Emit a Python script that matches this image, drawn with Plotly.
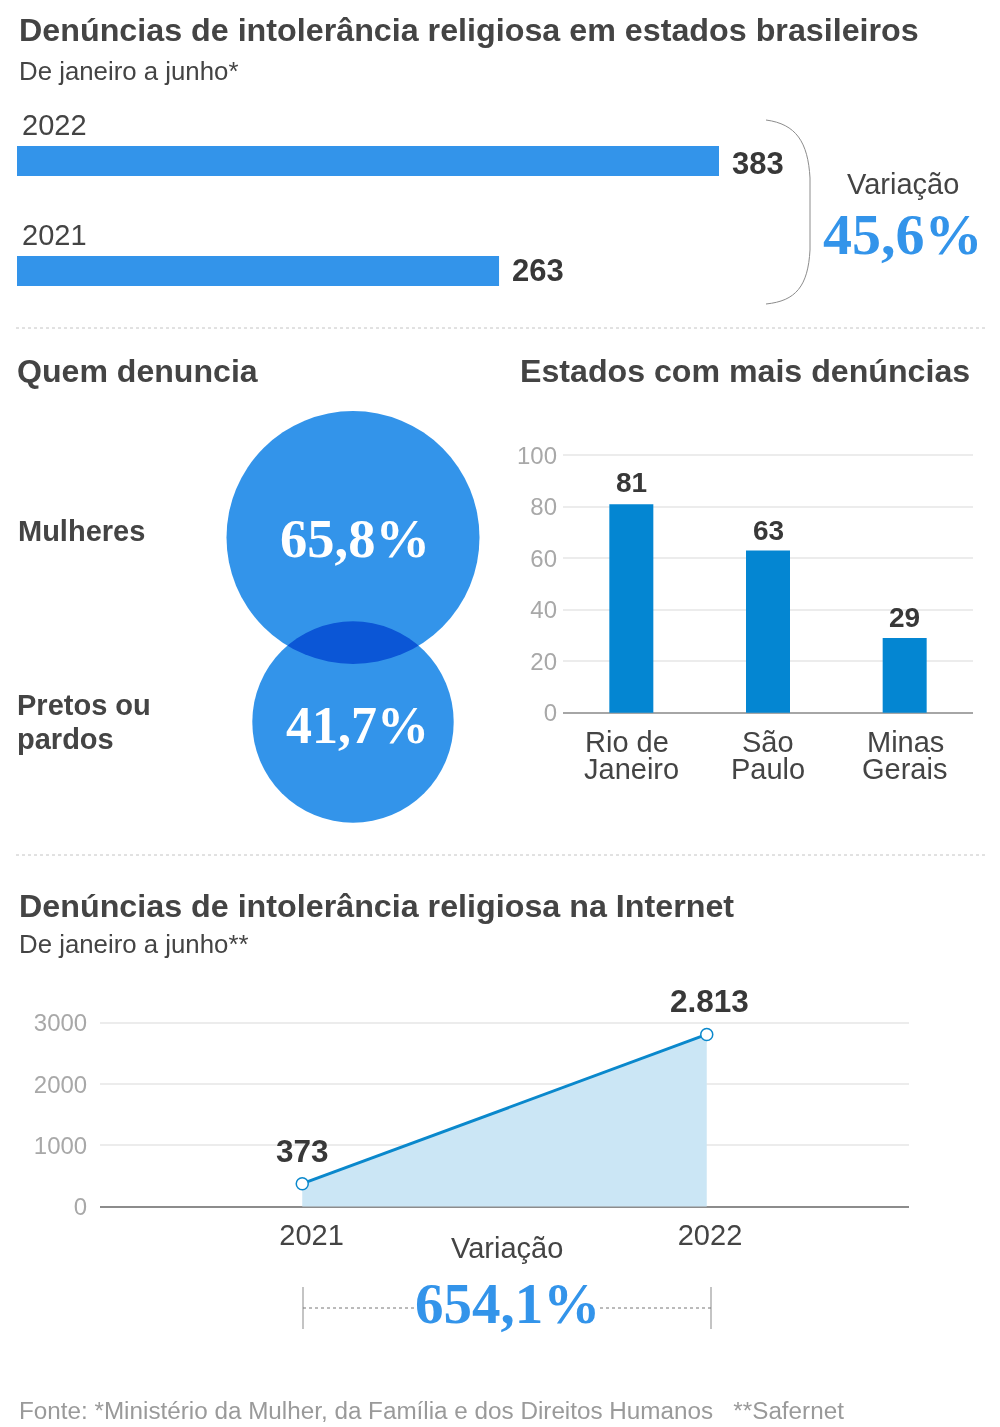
import plotly.graph_objects as go

W, H = 1000, 1427

# ---- data ----
years_top = ["2021", "2022"]
denuncias_top = [263, 383]
variacao_top = "45,6%"

quem_cats = ["Pretos ou pardos", "Mulheres"]
quem_vals = [41.7, 65.8]
quem_text = ["41,7%", "65,8%"]

estados = ["Rio de Janeiro", "São Paulo", "Minas Gerais"]
estados_l1 = ["Rio de", "São", "Minas"]
estados_l2 = ["Janeiro", "Paulo", "Gerais"]
estados_vals = [81, 63, 29]
estados_ticks = [0, 20, 40, 60, 80, 100]

net_years = [2021, 2022]
net_vals = [373, 2813]
net_text = ["373", "2.813"]
net_ticks = [0, 1000, 2000, 3000]
variacao_net = "654,1%"

BLUE = "#3394ea"
BAR2 = "#0486d2"
LINE = "#0a88cc"
FILL = "#cbe6f5"
DARK = "#444444"
BOLD = "#383838"
GRAY = "#a8a8a8"
GRID = "#ececec"
AXIS = "#a6a6a6"
SANS = "Liberation Sans"
SERIF = "Liberation Serif"


def px(x):
    return x / W


def py(y):
    return 1 - y / H


def dom_x(a, b):
    return [px(a), px(b)]


def dom_y(top, bottom):
    return [py(bottom), py(top)]


def label(x, y, text, size, color=DARK, bold=False, family=SANS, anchor="left"):
    return dict(
        x=px(x), y=py(y), xref="paper", yref="paper", text=f"<b>{text}</b>" if bold else text,
        showarrow=False, xanchor=anchor, yanchor="middle", align=anchor,
        borderpad=0, borderwidth=0,
        font=dict(size=size, color=color, family=family),
    )


fig = go.Figure()

# top bars
fig.add_trace(go.Bar(
    x=denuncias_top, y=years_top, orientation="h", width=30 / 110,
    marker=dict(color=BLUE, line=dict(width=0)), xaxis="x", yaxis="y", hoverinfo="skip",
))

# circles (area proportional)
R_BIG = 126.5
sizeref = max(quem_vals) / 2 / R_BIG ** 2
fig.add_trace(go.Scatter(
    x=[0, 0], y=quem_cats, mode="markers",
    marker=dict(size=quem_vals, sizemode="area", sizeref=sizeref, color=BLUE,
                opacity=1, line=dict(width=0)),
    cliponaxis=False, xaxis="x2", yaxis="y2", hoverinfo="skip",
))

# states bars
fig.add_trace(go.Bar(
    x=estados, y=estados_vals, width=44 / 136.67,
    marker=dict(color=BAR2, line=dict(width=0)), xaxis="x3", yaxis="y3", hoverinfo="skip",
))

# internet line
fig.add_trace(go.Scatter(
    x=net_years, y=net_vals, mode="lines+markers", fill="tozeroy", fillcolor=FILL,
    line=dict(color=LINE, width=3),
    marker=dict(size=12, color="white", line=dict(color=LINE, width=1.5)),
    cliponaxis=False, xaxis="x4", yaxis="y4", hoverinfo="skip",
))

ann = [
    label(19, 30, "Denúncias de intolerância religiosa em estados brasileiros", 32.25, bold=True),
    label(19, 71, "De janeiro a junho*", 25.8),
    label(903, 184, "Variação", 29, anchor="center"),
    label(903, 234, variacao_top, 58, color=BLUE, bold=True, family=SERIF, anchor="center"),
    label(17, 371, "Quem denuncia", 32.1, bold=True),
    label(520, 371, "Estados com mais denúncias", 32.15, bold=True),
    label(18, 531, "Mulheres", 29, bold=True),
    label(17, 705, "Pretos ou", 29, bold=True),
    label(17, 739, "pardos", 29, bold=True),
    label(19, 906, "Denúncias de intolerância religiosa na Internet", 32.25, bold=True),
    label(19, 944, "De janeiro a junho**", 25.8),
    label(507, 1248, "Variação", 29, anchor="center"),
    label(507, 1303, variacao_net, 57, color=BLUE, bold=True, family=SERIF, anchor="center"),
    label(19, 1410, "Fonte: *Ministério da Mulher, da Família e dos Direitos Humanos   **Safernet", 24.25, color="#9a9a9a"),
]

# circle labels, small offsets in pixels
for i, (t, size, dx, dy) in enumerate(zip(quem_text, [52, 54.5], [4, 2], [-3, -1])):
    ann.append(dict(x=0, y=i, xref="x2", yref="y2", text=f"<b>{t}</b>", showarrow=False,
                    xshift=dx, yshift=dy, font=dict(size=size, color="white", family=SERIF)))

for i, (yr, v, dy) in enumerate(zip(years_top, denuncias_top, [1, -2])):
    ann.append(dict(x=0, y=i, xref="x", yref="y", text=yr, showarrow=False, xanchor="left",
                    yanchor="middle", xshift=3, yshift=36, font=dict(size=29, color=DARK, family=SANS)))
    ann.append(dict(x=v, y=i, xref="x", yref="y", text=f"<b>{v}</b>", showarrow=False, xanchor="left",
                    yanchor="middle", xshift=11, yshift=dy, font=dict(size=31, color=BOLD, family=SANS)))

for name, l1, l2, v, dx, dy in zip(estados, estados_l1, estados_l2, estados_vals, [-4, 0, 1], [22, 20, 21]):
    ann.append(dict(x=name, y=v, xref="x3", yref="y3", text=f"<b>{v}</b>", showarrow=False,
                    yanchor="middle", yshift=dy, font=dict(size=28, color=BOLD, family=SANS)))
    ann.append(dict(x=name, y=0, xref="x3", yref="y3", text=l1, showarrow=False,
                    yanchor="middle", xshift=dx, yshift=-29, font=dict(size=29, color=DARK, family=SANS)))
    ann.append(dict(x=name, y=0, xref="x3", yref="y3", text=l2, showarrow=False,
                    yanchor="middle", yshift=-56, font=dict(size=29, color=DARK, family=SANS)))

for yr, v, t, dx in zip(net_years, net_vals, net_text, [0, 3]):
    ann.append(dict(x=yr, y=v, xref="x4", yref="y4", text=f"<b>{t}</b>", showarrow=False,
                    yanchor="middle", xshift=dx, yshift=33, font=dict(size=31.5, color=BOLD, family=SANS)))


def seg(x0, y0, x1, y1, color, width=1, dash="solid"):
    return dict(type="line", xref="paper", yref="paper", x0=px(x0), y0=py(y0), x1=px(x1), y1=py(y1),
                line=dict(color=color, width=width, dash=dash), layer="below")


brace_pts = "M {} {} C {} {} {} {} {} {} L {} {} C {} {} {} {} {} {}".format(
    px(766), py(120), px(796), py(124), px(808), py(142), px(810), py(178),
    px(810), py(250), px(808), py(286), px(796), py(301), px(766), py(304),
)

shapes = [
    seg(16, 328, 985, 328, "#c4c4c4", 1, "dot"),
    seg(16, 855, 985, 855, "#c4c4c4", 1, "dot"),
    dict(type="path", xref="paper", yref="paper", path=brace_pts, line=dict(color="#8c8c8c", width=1)),
    seg(303, 1287, 303, 1329, "#b0b0b0", 1.5),
    seg(711, 1287, 711, 1329, "#b0b0b0", 1.5),
    seg(303, 1308, 415, 1308, "#777777", 1, "dot"),
    seg(600, 1308, 711, 1308, "#777777", 1, "dot"),
]

tick_font = dict(size=24, color=GRAY, family=SANS)

# pixel scales of the two value axes; ranges overshoot so the edge gridlines and zero lines draw
S3 = (712.7 - 455.3) / 100
S4 = (1206.5 - 1023) / 3000
R3 = [-0.6, 101]
R4 = [-10, 3040]

fig.update_layout(
    width=W, height=H, autosize=False, showlegend=False,
    margin=dict(l=0, r=0, t=0, b=0, pad=0, autoexpand=False), paper_bgcolor="white", plot_bgcolor="white",
    annotations=ann, shapes=shapes,
    # top bars: 702 px = 383
    xaxis=dict(domain=dom_x(17, 800), range=[0, (800 - 17) * 383 / 702], visible=False, fixedrange=True),
    yaxis=dict(domain=dom_y(106, 326), range=[-0.5, 1.5], type="category",
               categoryorder="array", categoryarray=years_top, visible=False, fixedrange=True),
    # circles
    xaxis2=dict(domain=dom_x(343, 363), range=[-1, 1], visible=False, anchor="y2"),
    yaxis2=dict(domain=dom_y(537.5, 722), range=[0, 1], type="category",
                categoryorder="array", categoryarray=quem_cats, visible=False, anchor="x2"),
    # states
    xaxis3=dict(domain=dom_x(563, 973), range=[-0.5, 2.5], type="category", categoryorder="array",
                categoryarray=estados, anchor="y3", showticklabels=False, ticks="",
                showline=False, showgrid=False, zeroline=False),
    yaxis3=dict(domain=dom_y(712.7 - R3[1] * S3, 712.7 - R3[0] * S3), range=R3, tickvals=estados_ticks, anchor="x3",
                gridcolor=GRID, gridwidth=2, zeroline=True, zerolinecolor=AXIS, zerolinewidth=2,
                showline=False, ticks="", ticklabelstandoff=5, tickfont=tick_font),
    # internet
    xaxis4=dict(domain=dom_x(100, 909), range=[2020.5, 2022.5], anchor="y4",
                tickvals=[net_years[0] + 0.023, net_years[1] + 0.008],
                ticktext=[str(y) for y in net_years],
                tickfont=dict(size=29, color=DARK, family=SANS),
                ticks="", ticklabelstandoff=8, showline=False, showgrid=False, zeroline=False),
    yaxis4=dict(domain=dom_y(1206.5 - R4[1] * S4, 1206.5 - R4[0] * S4), range=R4, tickvals=net_ticks, tickformat="d", anchor="x4",
                gridcolor=GRID, gridwidth=2, zeroline=True, zerolinecolor="#8c8c8c", zerolinewidth=2,
                showline=False, ticks="outside", ticklen=7, tickcolor="rgba(0,0,0,0)", tickfont=tick_font),
)

post = """
document.body.style.margin = '0';
document.querySelectorAll('.scatterlayer .points path').forEach(function (p, i) {
  if (p.getBBox().width > 100) { p.style.mixBlendMode = 'multiply'; }
});
"""
fig.write_html("out.html", config=dict(displayModeBar=False, staticPlot=True), post_script=post)
